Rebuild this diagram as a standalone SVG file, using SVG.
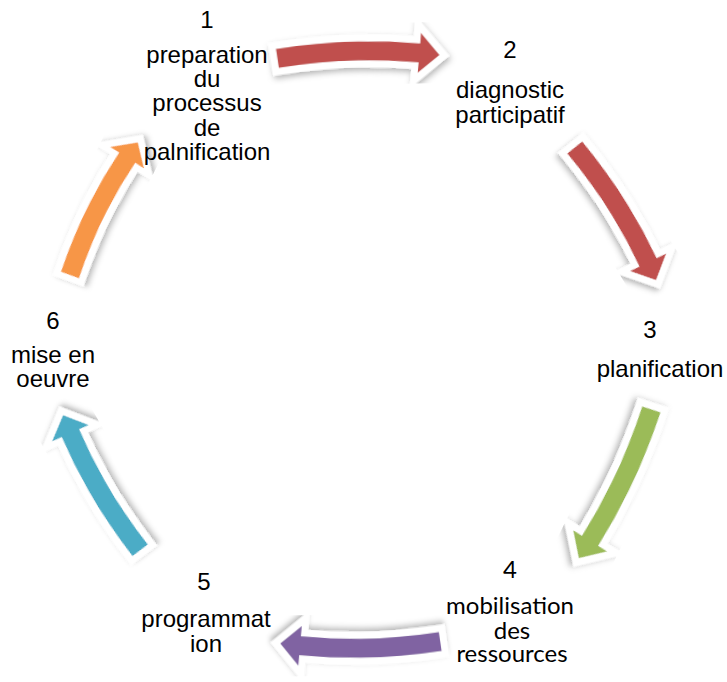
<svg xmlns="http://www.w3.org/2000/svg" xmlns:xlink="http://www.w3.org/1999/xlink" width="727" height="682" viewBox="0 0 727 682">
<style>
.t{font-family:"Liberation Sans",Arial,sans-serif;font-size:24px;fill:#000;text-anchor:middle}
.c{font-family:Lato,"Liberation Sans",sans-serif;font-size:24px;fill:#000;text-anchor:middle}
.arr{filter:url(#sh)}
</style>
<defs>
<filter id="sh" x="-25%" y="-25%" width="150%" height="150%">
<feDropShadow dx="1.5" dy="3" stdDeviation="3" flood-color="#000" flood-opacity="0.3"/>
</filter>
<path id="arrow" d="M -84.30 -9.39 A 609.5 609.5 0 0 1 62.97 -11.99 L 64.05 -22.43 L 82.46 -0.06 L 59.92 17.35 L 61.00 6.91 A 590.5 590.5 0 0 0 -81.67 9.42 Z" stroke="#fff" stroke-width="14" stroke-linejoin="miter" stroke-miterlimit="4" paint-order="stroke"/>
</defs>
<rect width="727" height="682" fill="#fff"/>
<g id="connectors">
<use xlink:href="#arrow" class="arr" fill="#C0504D" transform="translate(358.7 56.7) rotate(-1.2) scale(0.98 1)"/>
<use xlink:href="#arrow" class="arr" fill="#C0504D" transform="translate(615.5 214) rotate(58.5) scale(0.94 1)"/>
<use xlink:href="#arrow" class="arr" fill="#9BBB59" transform="translate(615 484) rotate(116) scale(1.0 1)"/>
<use xlink:href="#arrow" class="arr" fill="#8064A2" transform="translate(360 642.5) rotate(179.3) scale(0.967 1)"/>
<use xlink:href="#arrow" class="arr" fill="#4BACC6" transform="translate(101.5 482.5) rotate(240.3) scale(0.94 1)"/>
<use xlink:href="#arrow" class="arr" fill="#F79646" transform="translate(104 208.5) rotate(-62.9) scale(0.9 1)"/>
</g>
<g id="node1">
<text class="t" x="207" y="28">1</text>
<text class="t" x="207" y="63">preparation</text>
<text class="t" x="207" y="87">du</text>
<text class="t" x="207" y="111">processus</text>
<text class="t" x="207" y="136">de</text>
<text class="t" x="207" y="160">palnification</text>
</g>
<g id="node2">
<text class="t" x="510" y="58">2</text>
<text class="t" x="510" y="98">diagnostic</text>
<text class="t" x="510" y="123">participatif</text>
</g>
<g id="node3">
<text class="t" x="650" y="338">3</text>
<text class="t" x="660" y="377">planification</text>
</g>
<g id="node4">
<text class="c" x="510" y="578">4</text>
<text class="c" x="510" y="614">mobilisation</text>
<text class="c" x="512" y="639">des</text>
<text class="c" x="512" y="662">ressources</text>
</g>
<g id="node5">
<text class="t" x="204" y="590">5</text>
<text class="t" x="206" y="627">programmat</text>
<text class="t" x="206" y="652">ion</text>
</g>
<g id="node6">
<text class="t" x="53" y="329">6</text>
<text class="t" x="53" y="363">mise en</text>
<text class="t" x="53" y="387">oeuvre</text>
</g>
</svg>
